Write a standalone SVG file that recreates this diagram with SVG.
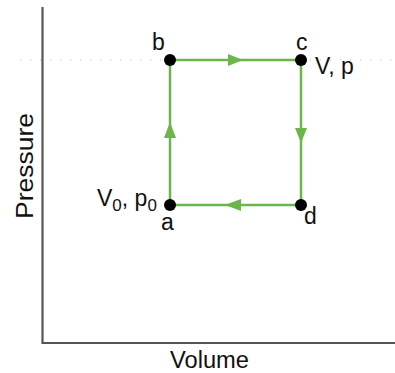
<svg xmlns="http://www.w3.org/2000/svg" width="395" height="373" viewBox="0 0 395 373">
<style>
text{font-family:"Liberation Sans",Arial,sans-serif;font-size:23px;fill:#111}
.edge{stroke:#6cb54a;stroke-width:2.5;fill:none}
.head{fill:#6cb54a}
.dot{fill:#000}
</style>
<rect width="395" height="373" fill="#fff"/>
<g id="axes">
<line x1="20" y1="60" x2="395" y2="60" stroke="#c4c4c4" stroke-width="1.2" stroke-dasharray="1.2,8.8"/>
<path d="M42.5 7 V343 H395" stroke="#555" stroke-width="2.2" fill="none"/>
<text x="33" y="166" font-size="25" text-anchor="middle" textLength="106" lengthAdjust="spacingAndGlyphs" transform="rotate(-90 33 166)">Pressure</text>
<text x="170" y="368" textLength="79" lengthAdjust="spacingAndGlyphs">Volume</text>
</g>
<g id="connectors">
<line class="edge" x1="170" y1="60" x2="301" y2="60"/>
<polygon class="head" points="243,60 228,54 228,66"/>
<line class="edge" x1="301" y1="60" x2="301" y2="205"/>
<polygon class="head" points="301,143 295,128 307,128"/>
<line class="edge" x1="301" y1="205" x2="170" y2="205"/>
<polygon class="head" points="225,205 241,199 241,211"/>
<line class="edge" x1="170" y1="205" x2="170" y2="60"/>
<polygon class="head" points="170,122 164,138 176,138"/>
</g>
<g id="node-a">
<circle class="dot" cx="170" cy="205" r="6"/>
<text x="161" y="230">a</text>
<text x="97" y="206">V<tspan font-size="17" dy="5">0</tspan><tspan dy="-5">, p</tspan><tspan font-size="17" dy="5">0</tspan></text>
</g>
<g id="node-b">
<circle class="dot" cx="170" cy="60" r="6"/>
<text x="152" y="50">b</text>
</g>
<g id="node-c">
<circle class="dot" cx="301" cy="60" r="6"/>
<text x="296" y="50">c</text>
<text x="315" y="74">V, p</text>
</g>
<g id="node-d">
<circle class="dot" cx="301" cy="205" r="6"/>
<text x="304" y="224">d</text>
</g>
</svg>
